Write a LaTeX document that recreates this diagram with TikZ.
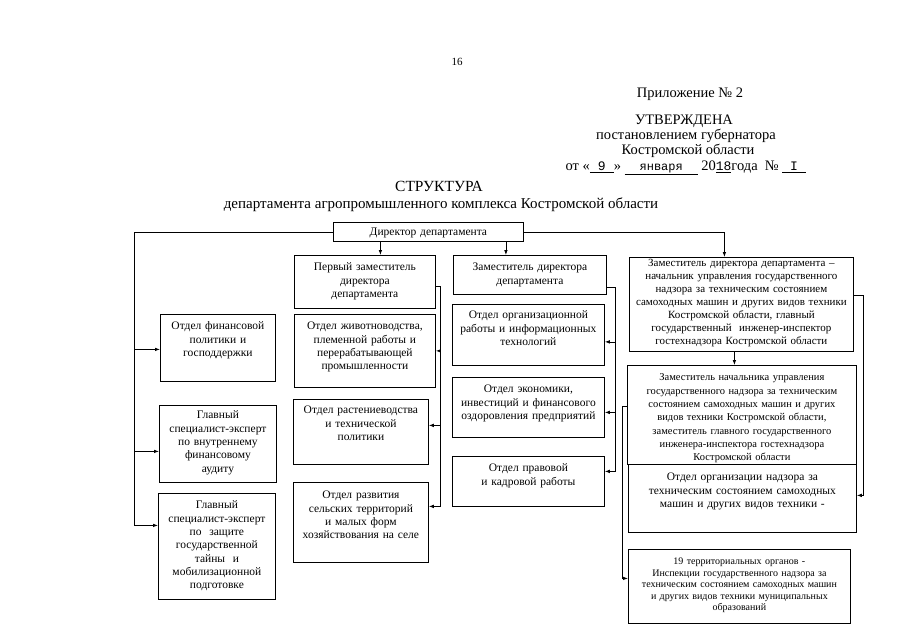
\documentclass[tikz,border=0pt]{standalone}
\usepackage{fontspec}
\setmainfont{Liberation Serif}
\newfontfamily\filledfont{Liberation Mono}
\usetikzlibrary{calc,arrows.meta}
\tikzset{
  unit/.style={draw, align=center, inner sep=0pt, anchor=north west,
    font=\fontsize{11.5}{13.3}\selectfont},
  head/.style={font=\fontsize{14.5}{16}\selectfont, inner sep=0pt}
}
\begin{document}
\begin{tikzpicture}[x=1pt, y=-1pt, line width=0.8pt, >={Latex[length=5pt,width=3.6pt]}]
\useasboundingbox[fill=white] (0,0) rectangle (897,640);
% heading
\node[font=\fontsize{11}{13}\selectfont, inner sep=0pt] (pgnum) at (457,62) {16};
\node[head] (annex) at (690,94) {Приложение №~2};
\node[head] (approved) at (684,121) {УТВЕРЖДЕНА};
\node[head] (decree) at (686,136) {постановлением губернатора};
\node[head] (region) at (688,151) {Костромской области};
\node[head] (date) at (686,168) {от «\underline{\makebox[24pt]{\filledfont\fontsize{13}{15}\selectfont 9}}» \underline{\makebox[73pt]{\filledfont\fontsize{12}{15}\selectfont января}} 20\underline{\filledfont\fontsize{13}{15}\selectfont 18}года~~№~\underline{\makebox[24pt][l]{\filledfont\fontsize{13}{15}\selectfont\ I}}};
\node[head, font=\fontsize{15.5}{17}\selectfont] (title) at (439,186) {СТРУКТУРА};
\node[head, font=\fontsize{15}{17}\selectfont] (subtitle) at (441,205) {департамента агропромышленного комплекса Костромской области};
% boxes
\node[unit, text width=190pt, text height=13pt, text depth=6pt] (dir) at (333,222) {Директор департамента};
\node[unit, text width=141pt, text height=15.5pt, text depth=37.5pt] (fd) at (294,255) {Первый заместитель\\директора\\департамента};
\node[unit, text width=153pt, text height=15.5pt, text depth=23.5pt] (dep) at (453,255) {Заместитель директора\\департамента};
\node[unit, text width=224pt, text height=9.5pt, text depth=84.5pt, font=\fontsize{11}{13}\selectfont] (dc) at (629,257) {Заместитель директора департамента –\\начальник управления государственного\\надзора за техническим состоянием\\самоходных машин и других видов техники\\Костромской области, главный\\государственный\ \ инженер-инспектор\\гостехнадзора Костромской области};
\node[unit, text width=115pt, text height=15.5pt, text depth=51.5pt] (fin) at (160,314) {Отдел финансовой\\политики и\\господдержки};
\node[unit, text width=141pt, text height=15.5pt, text depth=57.5pt] (live) at (294,314) {Отдел животноводства,\\племенной работы и\\перерабатывающей\\промышленности};
\node[unit, text width=152pt, text height=14.5pt, text depth=46.5pt] (org) at (452,304) {Отдел организационной\\работы и информационных\\технологий};
\node[unit, text width=152pt, text height=15.5pt, text depth=44.5pt] (econ) at (452,377) {Отдел экономики,\\инвестиций и финансового\\оздоровления предприятий};
\node[unit, text width=152pt, text height=15.5pt, text depth=34.5pt] (legal) at (452,456) {Отдел правовой\\и кадровой работы};
\node[unit, text width=135pt, text height=14.5pt, text depth=50.5pt] (plants) at (293,399) {Отдел растениеводства\\и технической\\политики};
\node[unit, text width=135pt, text height=16.5pt, text depth=63.5pt] (rural) at (293,482) {Отдел развития\\сельских территорий\\и малых форм\\хозяйствования на селе};
\node[unit, text width=117pt, text height=13.5pt, text depth=63.5pt] (audit) at (159,405) {Главный\\специалист-эксперт\\по внутреннему\\финансовому\\аудиту};
\node[unit, text width=117pt, text height=15.5pt, text depth=90.5pt] (secret) at (158,493) {Главный\\специалист-эксперт\\по\ \ защите\\государственной\\тайны\ \ и\\мобилизационной\\подготовке};
\node[unit, text width=229pt, text height=15.5pt, text depth=83.5pt, font=\fontsize{10.5}{13.3}\selectfont] (dcc) at (627,365) {Заместитель начальника управления\\государственного надзора за техническим\\состоянием самоходных машин и других\\видов техники Костромской области,\\заместитель главного государственного\\инженера-инспектора гостехнадзора\\Костромской области};
\node[unit, text width=228pt, text height=16.5pt, text depth=51.5pt] (sup) at (628,464) {Отдел организации надзора за\\техническим состоянием самоходных\\машин и других видов техники -};
\node[unit, text width=222pt, text height=15.5pt, text depth=58.5pt, font=\fontsize{10}{11.4}\selectfont] (terr) at (628,549) {19 территориальных органов -\\Инспекции государственного надзора за\\техническим состоянием самоходных машин\\и других видов техники муниципальных\\образований};
% bus lines
\coordinate (lbus) at (134,0);
\coordinate (fbus) at (440,0);
\coordinate (dbus) at (615,0);
\coordinate (tbus) at (622,0);
\coordinate (rbus) at (863.5,0);
% director
\coordinate (fdtop) at ([xshift=15.5]fd.north);
\coordinate (deptop) at ([xshift=-24]dep.north);
\coordinate (dctop) at ([xshift=-17]dc.north);
\draw[->] (fdtop |- dir.south) -- (fdtop);
\draw[->] (deptop |- dir.south) -- (deptop);
\draw[->] (dir.east) -| (dctop);
\coordinate (finin) at ([yshift=-1.5]fin.west);
\coordinate (audin) at ([yshift=-7.5]audit.west);
\coordinate (secin) at ([yshift=21]secret.west);
\draw[->] (dir.west) -| (lbus |- secin) -- (secin);
\draw[->] (lbus |- finin) -- (finin);
\draw[->] (lbus |- audin) -- (audin);
% first deputy
\coordinate (fdout) at ([yshift=-4.5]fd.east);
\coordinate (plantsin) at ([yshift=6.5]plants.east);
\coordinate (ruralin) at ([yshift=16]rural.east);
\draw[->] (fdout) -| (fbus |- ruralin) -- (ruralin);
\draw[->] (fbus |- live.east) -- (live.east);
\draw[->] (fbus |- plantsin) -- (plantsin);
% deputy
\coordinate (depout) at ([yshift=-12]dep.east);
\coordinate (orgin) at ([yshift=-7]org.east);
\coordinate (econin) at ([yshift=-5]econ.east);
\coordinate (legalin) at ([yshift=10]legal.east);
\draw[->] (depout) -| (dbus |- legalin) -- (legalin);
\draw[->] (dbus |- orgin) -- (orgin);
\draw[->] (dbus |- econin) -- (econin);
% supervision
\coordinate (dcbot) at ([xshift=-7]dc.south);
\draw[->] (dcbot) -- (dcbot |- dcc.north);
\coordinate (dcout) at ([yshift=9]dc.east);
\coordinate (supin) at ([yshift=3]sup.east);
\draw[->] (dcout) -| (rbus |- supin) -- (supin);
\coordinate (dccout) at ([yshift=8.5]dcc.west);
\coordinate (terrin) at ([yshift=8]terr.west);
\draw[->] (dccout) -| (tbus |- terrin) -- (terrin);
\end{tikzpicture}
\end{document}
